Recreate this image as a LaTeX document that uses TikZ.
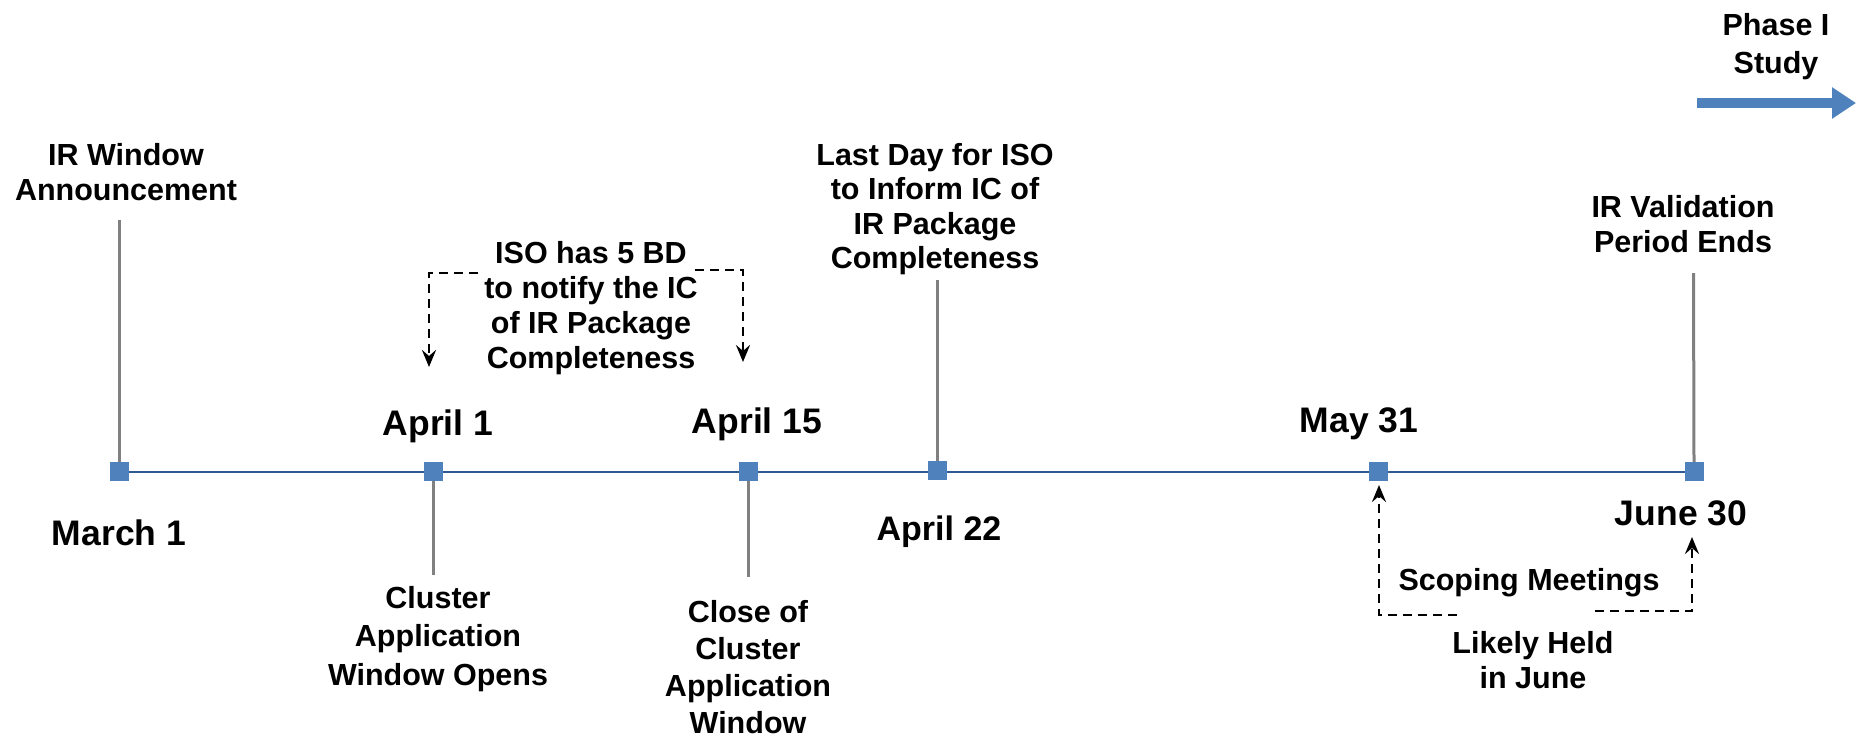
\documentclass[tikz,border=0pt]{standalone}
\usepackage{fontspec}
\setmainfont{Liberation Sans}
\usetikzlibrary{arrows.meta}
\definecolor{mk}{HTML}{4F81BD}
\definecolor{axisblue}{HTML}{2E5A94}
\definecolor{stemgray}{HTML}{808080}
\tikzset{
  datelbl/.style={font=\bfseries\fontsize{35.5}{42}\selectfont, anchor=base, inner sep=0pt},
  desc/.style={font=\bfseries\fontsize{30.5}{#1}\selectfont, anchor=base, inner sep=0pt, align=center},
  desc/.default=35,
  marker/.style={fill=mk, minimum size=19pt, inner sep=0pt, draw=none},
  stemline/.style={draw=stemgray, line width=3pt},
  dasharrow/.style={draw=black, line width=2.8pt, dash pattern=on 9pt off 6pt,
    -{Stealth[length=17pt,width=14pt,inset=6pt]}},
}
\begin{document}
\begin{tikzpicture}[x=1pt,y=-1pt]
\useasboundingbox (0,0) rectangle (1856,737);
% axis line
\coordinate (ax0) at (119,471.5);
\coordinate (ax1) at (1694,471.5);
\draw[axisblue, line width=2pt] (ax0) -- (ax1);
% markers
\node[marker] (m1) at (119,471.5) {};
\node[marker] (m2) at (433.5,471.5) {};
\node[marker] (m3) at (748.5,471.5) {};
\node[marker] (m4) at (937.5,470.5) {};
\node[marker] (m5) at (1378.5,471.5) {};
\node[marker] (m6) at (1694,471.5) {};
% date labels
\node[datelbl] (d1) at (119,545) {March 1};
\node[datelbl] (d2) at (438,435) {April 1};
\node[datelbl] (d3) at (757,433) {April 15};
\node[datelbl, font=\bfseries\fontsize{34}{41}\selectfont] (d4) at (939,540) {April 22};
\node[datelbl] (d5) at (1359,432) {May 31};
\node[datelbl] (d6) at (1681,525) {June 30};
% descriptions (base anchor = last line baseline)
\node[desc] (t1) at (126,200) {IR Window\\Announcement};
\node[desc=38.5] (t2) at (438,685) {Cluster\\Application\\Window Opens};
\node[desc=37] (t3) at (748,733) {Close of\\Cluster\\Application\\Window};
\node[desc=34.5] (t4) at (935,268.5) {Last Day for ISO\\to Inform IC of\\IR Package\\Completeness};
\node[desc] (t5) at (591,368) {ISO has 5 BD\\to notify the IC\\of IR Package\\Completeness};
\node[desc] (t6) at (1683,252) {IR Validation\\Period Ends};
\node[desc] (t7) at (1529,590) {Scoping Meetings};
\node[desc] (t8) at (1533,688) {Likely Held\\in June};
\node[desc=38] (t9) at (1776,73) {Phase I\\Study};
% stems
\coordinate (s1) at (119,220);
\coordinate (s2) at (433.5,575);
\coordinate (s3) at (748.5,577);
\coordinate (s4) at (937.5,280);
\coordinate (s6) at (1693.5,273);
\draw[stemline] (m1.north) -- (s1);
\draw[stemline] (m2.south) -- (s2);
\draw[stemline] (m3.south) -- (s3);
\draw[stemline] (m4.north) -- (s4);
\draw[stemline] (m6.north) -- (s6);
% dashed arrows
\coordinate (a1) at (478,273);
\coordinate (a1e) at (429,367);
\draw[dasharrow] (a1) -| (a1e);
\coordinate (a2) at (695,270);
\coordinate (a2e) at (743,362);
\draw[dasharrow] (a2) -| (a2e);
\coordinate (a3) at (1457,615);
\coordinate (a3e) at (1379,485);
\draw[dasharrow] (a3) -| (a3e);
\coordinate (a4) at (1595,611);
\coordinate (a4e) at (1692,537);
\draw[dasharrow] (a4) -| (a4e);
% phase arrow
\coordinate (p0) at (1697,103);
\coordinate (p1) at (1856,103);
\draw[mk, line width=10pt, -{Triangle[length=24pt,width=30pt]}] (p0) -- (p1);
\end{tikzpicture}
\end{document}
